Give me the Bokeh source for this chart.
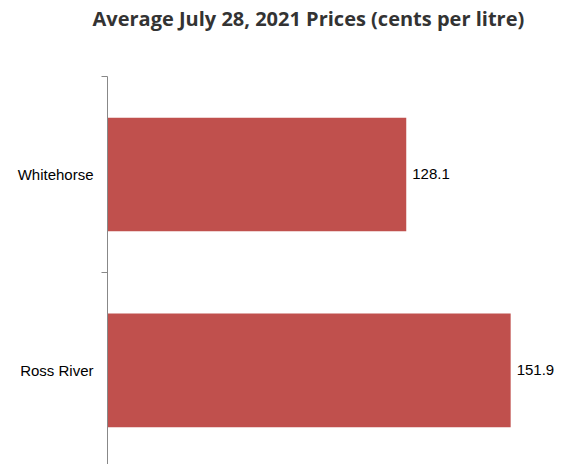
from bokeh.plotting import figure
from bokeh.models import Range1d, FixedTicker, ColumnDataSource, Title
from bokeh.embed import file_html
from bokeh.resources import INLINE
from bokeh.core.properties import value

categories = ["Whitehorse", "Ross River"]
prices = [128.1, 151.9]
price_labels = ["128.1", "151.9"]
title_text = "Average July 28, 2021 Prices (cents per litre)"

ypos = [i + 0.5 for i in range(len(categories))]
src = ColumnDataSource(dict(y=ypos, v=prices, lab=price_labels))

p = figure(width=565, height=464, output_backend="svg", toolbar_location=None,
           x_range=Range1d(60, 164.4), y_range=Range1d(1.98, 0),
           min_border_left=107, min_border_right=0, min_border_bottom=0, min_border_top=0)
p.title = None
p.add_layout(Title(text=" ", text_font_size="10px", standoff=30), "above")
p.add_layout(Title(text=title_text, align="left", text_font="Open Sans",
                   text_font_size="20px", text_font_style="bold", text_color="#333333",
                   offset=-15, standoff=4), "above")
p.outline_line_color = None
p.xgrid.visible = False
p.ygrid.visible = False
p.xaxis.visible = False

p.hbar(y="y", right="v", left=60, height=0.58, source=src, color="#C0504D", line_color=None)
p.text(x="v", y="y", text="lab", source=src, x_offset=6, text_baseline="middle",
       text_font=value("Liberation Sans"), text_font_size="15px", text_color="#000000")

ax = p.yaxis[0]
ax.ticker = FixedTicker(ticks=ypos, minor_ticks=[0, 1, 2])
ax.major_label_overrides = {y: c for y, c in zip(ypos, categories)}
ax.major_tick_out = 0
ax.major_tick_in = 0
ax.minor_tick_out = 6
ax.minor_tick_in = 0
ax.minor_tick_line_color = "#888888"
ax.axis_line_color = "#888888"
ax.major_label_text_font = "Liberation Sans"
ax.major_label_text_font_size = "15px"
ax.major_label_text_color = "#000000"
ax.major_label_standoff = 8

open("out.html", "w").write(file_html(p, INLINE))
